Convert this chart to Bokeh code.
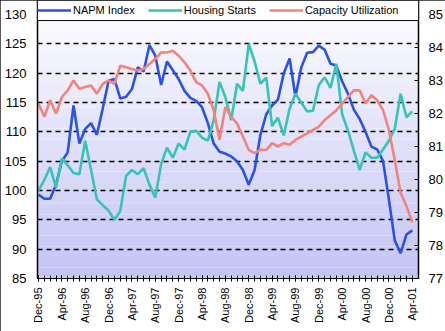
import numpy as np
from bokeh.plotting import figure
from bokeh.models import Range1d, LinearAxis, FixedTicker, Legend, LegendItem, BoxAnnotation
from bokeh.embed import file_html
from bokeh.resources import INLINE

# ---- data (monthly, Dec-95 .. Apr-01) ----
tick_labels = ["Dec-95", "Apr-96", "Aug-96", "Dec-96", "Apr-97", "Aug-97", "Dec-97",
               "Apr-98", "Aug-98", "Dec-98", "Apr-99", "Aug-99", "Dec-99", "Apr-00",
               "Aug-00", "Dec-00", "Apr-01"]
napm = [99.3, 98.6, 98.6, 101.0, 105.0, 106.5, 114.5, 108.0, 110.5, 111.5,
        109.5, 114.0, 118.7, 119.0, 115.7, 116.0, 117.3, 121.0, 120.3, 124.8,
        123.0, 118.0, 122.0, 120.5, 119.0, 117.0, 115.8, 115.3, 114.2, 111.5,
        108.0, 106.6, 106.3, 105.8, 105.0, 103.5, 101.0, 103.5, 109.5, 113.0,
        114.5, 115.5, 120.0, 122.5, 116.0, 121.0, 123.5, 123.6, 124.7, 124.0,
        121.6, 121.3, 118.6, 116.5, 113.8, 112.2, 110.0, 107.5, 107.0, 105.0,
        98.5, 91.5, 89.3, 92.5, 93.2]
housing = [100.0, 101.8, 104.0, 100.5, 105.5, 104.3, 103.0, 102.8, 108.5, 103.5,
           98.5, 97.5, 96.6, 95.0, 96.5, 102.5, 103.5, 102.8, 103.8, 101.0,
           98.8, 104.5, 107.3, 105.6, 108.0, 107.0, 110.0, 110.2, 109.0, 108.5,
           112.0, 118.5, 115.9, 112.0, 118.2, 117.0, 125.0, 122.0, 118.2, 119.3,
           111.0, 112.4, 109.4, 114.0, 116.5, 115.0, 113.5, 113.6, 118.0, 119.3,
           117.5, 121.6, 113.0, 110.2, 106.8, 103.5, 106.5, 105.6, 105.6, 107.0,
           108.5, 110.5, 116.5, 112.5, 113.5]
capacity = [82.3, 81.9, 82.4, 82.0, 82.5, 82.7, 83.0, 82.75, 82.8, 82.85,
            82.6, 82.9, 83.0, 82.9, 83.45, 83.4, 83.35, 83.3, 83.35, 83.5,
            83.65, 83.85, 83.85, 83.9, 83.75, 83.55, 83.3, 82.95, 82.85, 82.6,
            82.1, 81.2, 82.2, 81.9, 81.7, 81.3, 80.9, 80.8, 80.9, 80.9,
            81.1, 81.0, 81.1, 81.05, 81.2, 81.3, 81.4, 81.5, 81.6, 81.8,
            81.95, 82.1, 82.3, 82.5, 82.7, 82.7, 82.3, 82.55, 82.4, 82.1,
            81.5, 80.6, 79.6, 79.2, 78.7]
left_ticks = [85, 90, 95, 100, 105, 110, 115, 120, 125, 130]
right_ticks = [77, 78, 79, 80, 81, 82, 83, 84, 85]

x = list(range(len(napm)))
FONT = "Liberation Sans"

p = figure(width=445, height=331, output_backend="svg", toolbar_location=None,
           x_range=Range1d(-0.17, 65.07), y_range=Range1d(85, 132.4),
           min_border_left=37, min_border_right=27, min_border_top=0,
           min_border_bottom=53, background_fill_color="white",
           border_fill_color="white")
p.styles = {"outline": "2px solid #222", "outline-offset": "-2px"}
p.extra_y_ranges = {"right": Range1d(77, 85.424)}
p.outline_line_color = "black"
p.outline_line_width = 1

# gradient background (white top -> lavender bottom)
nb = 26
edges = np.linspace(85, 132.4, nb + 1)
cols = []
for k in range(nb):
    t = (k + 0.5) / nb  # 0 bottom .. 1 top
    r = int(196 + (255 - 196) * t)
    b = int(246 + (255 - 246) * t)
    cols.append("#%02x%02x%02x" % (r, r, b))
p.quad(left=-0.17, right=65.07, bottom=edges[:-1], top=edges[1:], fill_color=cols,
       line_color=None, level="image")

# grid
p.xgrid.visible = False
p.ygrid.ticker = FixedTicker(ticks=left_ticks[1:-1])
p.ygrid.grid_line_color = "black"
p.ygrid.grid_line_dash = "5 4"
p.ygrid.grid_line_width = 1.4

# lines
r1 = p.line(x, napm, line_color="#2a52e6", line_width=2.6)
r2 = p.line(x, housing, line_color="#36c3b8", line_width=2.6)
r3 = p.line(x, capacity, line_color="#f2847a", line_width=2.6, y_range_name="right")

# axes
xa = p.xaxis[0]
xa.ticker = FixedTicker(ticks=list(range(0, 65, 4)), minor_ticks=list(range(65)))
xa.major_label_overrides = {i * 4: lab for i, lab in enumerate(tick_labels)}
xa.major_label_orientation = np.pi / 2
xa.major_tick_in = 3
xa.major_tick_out = 3
xa.minor_tick_in = 3
xa.minor_tick_out = 3
xa.major_label_standoff = 6
xa.major_label_text_font = FONT
xa.major_label_text_font_size = "11px"
xa.major_label_text_color = "black"
xa.axis_line_color = "black"
xa.major_tick_line_color = "black"
xa.minor_tick_line_color = "black"

ya = p.yaxis[0]
ya.ticker = FixedTicker(ticks=left_ticks)
ya.major_tick_in = 0
ya.major_tick_out = 0
ya.minor_tick_line_color = None
ya.major_label_standoff = 11
ya.major_label_text_font = FONT
ya.major_label_text_font_size = "13px"
ya.major_label_text_color = "black"
ya.axis_line_color = "black"
ya.axis_line_width = 1.5

ra = LinearAxis(y_range_name="right", ticker=FixedTicker(ticks=right_ticks))
ra.major_tick_in = 4
ra.major_tick_out = 0
ra.minor_tick_line_color = None
ra.major_label_standoff = 10
ra.major_label_text_font = FONT
ra.major_label_text_font_size = "13px"
ra.major_label_text_color = "black"
ra.axis_line_color = "black"
ra.axis_line_width = 1.5
ra.major_tick_line_color = "black"
p.add_layout(ra, "right")

# legend box across top
box = BoxAnnotation(bottom=128.98, fill_color="white", fill_alpha=1.0,
                    line_color="black", line_width=1, line_alpha=1.0)
p.add_layout(box)

legend = Legend(items=[LegendItem(label="NAPM Index", renderers=[r1]),
                       LegendItem(label="Housing Starts", renderers=[r2]),
                       LegendItem(label="Capacity Utilization", renderers=[r3])],
                orientation="horizontal", location=(0, 262), margin=0,
                padding=6, spacing=13, glyph_width=34, glyph_height=12,
                label_height=12, label_standoff=2,
                label_text_font=FONT, label_text_font_size="11px",
                label_text_color="black",
                background_fill_alpha=0, border_line_color=None)
p.add_layout(legend)

open("out.html", "w").write(file_html(p, INLINE))
